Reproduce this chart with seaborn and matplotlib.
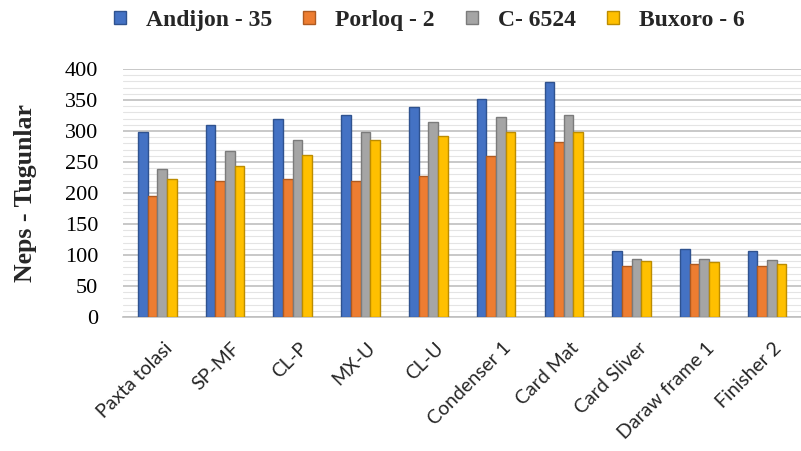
import matplotlib
matplotlib.use("Agg")
import matplotlib.pyplot as plt
import matplotlib.transforms as mtransforms
import seaborn as sns
import pandas as pd
from matplotlib.ticker import MultipleLocator
from matplotlib.patches import Patch

categories = ["Paxta tolasi", "SP-MF", "CL-P", "MX-U", "CL-U", "Condenser 1",
              "Card Mat", "Card Sliver", "Daraw frame 1", "Finisher 2"]
series_names = ["Andijon - 35", "Porloq - 2", "C- 6524", "Buxoro - 6"]
andijon = [299, 309, 320, 326, 339, 352, 379, 107, 110, 107]
porloq = [195, 219, 222, 219, 227, 259, 283, 83, 86, 83]
c6524 = [238, 268, 286, 299, 315, 323, 326, 94, 94, 92]
buxoro = [222, 244, 262, 286, 292, 299, 299, 91, 89, 86]
yticks = [0, 50, 100, 150, 200, 250, 300, 350, 400]

colors = ["#4472C4", "#ED7D31", "#A5A5A5", "#FFC000"]
edges = ["#2F528F", "#AE5A21", "#7B7B7B", "#BC8C00"]

rows = []
for name, vals in zip(series_names, [andijon, porloq, c6524, buxoro]):
    for c, v in zip(categories, vals):
        rows.append({"cat": c, "series": name, "value": v})
df = pd.DataFrame(rows)

sns.set_theme(style="white")
plt.rcParams['font.family'] = ['Liberation Serif', 'DejaVu Serif']

fig = plt.figure(figsize=(8.01, 4.51), dpi=100)
ax = fig.add_axes([0.154, 0.297, 0.846, 0.55])

sns.barplot(data=df, x="cat", y="value", hue="series", order=categories,
            hue_order=series_names, palette=colors, width=0.57, gap=0,
            saturation=1, ax=ax, legend=False, zorder=3)

n = len(categories)
for i, p in enumerate(ax.patches[:n * 4]):
    s = i // n
    p.set_edgecolor(edges[s])
    p.set_linewidth(1.0)

ax.set_ylim(0, 400)
ax.set_xlim(-0.5, n - 0.5)
ax.set_yticks(yticks)
ax.yaxis.set_minor_locator(MultipleLocator(10))
ax.grid(axis="y", which="major", color="#BFBFBF", linewidth=1.2, zorder=0)
ax.grid(axis="y", which="minor", color="#E4E4E4", linewidth=0.8, zorder=0)
ax.set_axisbelow(True)
for s in ["top", "right", "left"]:
    ax.spines[s].set_visible(False)
ax.spines["bottom"].set_color("#BFBFBF")
ax.spines["bottom"].set_linewidth(1.2)

ax.tick_params(axis="y", which="both", labelsize=16, length=0, pad=18, colors="#000000")
ax.tick_params(axis="x", length=0, pad=14)
ax.set_xticks(range(n))
ax.set_xticklabels(categories, rotation=45, ha="right", rotation_mode="anchor",
                   fontsize=14, family=["Lato", "DejaVu Sans"])
offset = mtransforms.ScaledTranslation(6 / 100, -3 / 100, fig.dpi_scale_trans)
for lbl in ax.get_xticklabels():
    lbl.set_transform(lbl.get_transform() + offset)
ax.set_xlabel("")
ax.set_ylabel("Neps - Tugunlar", fontsize=18.5, fontweight="bold")
ax.yaxis.set_label_coords(-0.128, 0.5)

handles = [Patch(facecolor=c, edgecolor=e, linewidth=1) for c, e in zip(colors, edges)]
fig.legend(handles, series_names, loc="center", bbox_to_anchor=(0.536, 0.955),
           ncol=4, frameon=False, prop={"family": "Liberation Serif", "weight": "bold", "size": 17},
           handlelength=0.52, handleheight=0.52, handletextpad=0.85, columnspacing=1.3,
           borderpad=0, borderaxespad=0)

fig.savefig("out.png", dpi=100)
